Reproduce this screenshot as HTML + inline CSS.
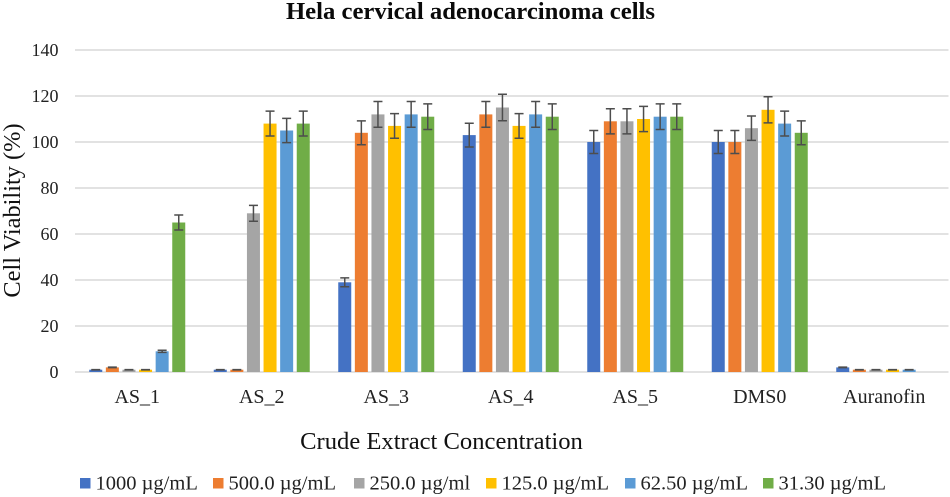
<!DOCTYPE html>
<html lang="en">
<head>
<meta charset="utf-8">
<title>Hela cervical adenocarcinoma cells</title>
<style>
html,body{margin:0;padding:0;background:#fff;width:950px;height:497px;overflow:hidden}
svg{display:block;font-family:"Liberation Serif",serif;filter:blur(0.35px)}
</style>
</head>
<body>
<svg id="chart" width="950" height="497" viewBox="0 0 950 497" xmlns="http://www.w3.org/2000/svg">
  <text x="470.5" y="19" text-anchor="middle" font-size="24.7" font-weight="bold" fill="#0a0a0a">Hela cervical adenocarcinoma cells</text>
  <text x="441.5" y="449" text-anchor="middle" font-size="24.6" fill="#111">Crude Extract Concentration</text>
  <text transform="translate(20 210.5) rotate(-90)" text-anchor="middle" font-size="24.4" fill="#111">Cell Viability (%)</text>
  <g id="grid"></g>
  <g id="ylabels"></g>
  <g id="xlabels"></g>
  <g id="bars"></g>
  <g id="errors"></g>
  <g id="legend"></g>
</svg>
<script>
const categories = ['AS_1', 'AS_2', 'AS_3', 'AS_4', 'AS_5', 'DMS0', 'Auranofin'];
const seriesNames = ['1000 µg/mL', '500.0 µg/mL', '250.0 µg/ml', '125.0 µg/mL', '62.50 µg/mL', '31.30 µg/mL'];
const seriesColors = ['#4472c4', '#ed7d31', '#a5a5a5', '#ffc000', '#5b9bd5', '#70ad47'];
const series1000 = [1, 1, 39, 103, 100, 100, 2];
const series500 = [2, 1, 104, 112, 109, 100, 1];
const series250 = [1, 69, 112, 115, 109, 106, 1];
const series125 = [1, 108, 107, 107, 110, 114, 1];
const series62 = [9, 105, 112, 112, 111, 108, 1];
const series31 = [65, 108, 111, 111, 111, 104, 0];
const allSeries = [series1000, series500, series250, series125, series62, series31];
const yTicks = [0, 20, 40, 60, 80, 100, 120, 140];
const errorPercent = 5;

const NS = 'http://www.w3.org/2000/svg';
const plotLeft = 75, plotRight = 948.5, baseY = 372, topY = 50, yMax = 140;
const band = 124.5, barPitch = 16.6, barW = 13;
const legendSwatchX = [80, 213, 354, 486, 625, 763];

function yScale(v) { return baseY - (v / yMax) * (baseY - topY); }
function groupCenter(i) { return plotLeft + band * (i + 0.5); }
function barLeft(c, s) { return groupCenter(c) + (s - 2.5) * barPitch - barW / 2; }
function make(tag, attrs, parent) {
  const el = document.createElementNS(NS, tag);
  for (const k in attrs) el.setAttribute(k, attrs[k]);
  parent.appendChild(el);
  return el;
}

const gridG = document.getElementById('grid');
const yLabG = document.getElementById('ylabels');
yTicks.forEach(function (t) {
  const line = make('line', { x1: plotLeft, x2: plotRight, y1: yScale(t), y2: yScale(t), stroke: '#d9d9d9', 'stroke-width': 1.4 }, gridG);
  
  
  const lab = make('text', { x: 58.5, y: yScale(t) + 6, 'text-anchor': 'end', 'font-size': 18, fill: '#222' }, yLabG);
  lab.textContent = t;
  
  
});

const xLabG = document.getElementById('xlabels');
categories.forEach(function (c, i) {
  const lab = make('text', { x: groupCenter(i), y: 403, 'text-anchor': 'middle', 'font-size': 20, fill: '#222' }, xLabG);
  lab.textContent = c;
  
  
});

const barG = document.getElementById('bars');
const errG = document.getElementById('errors');
allSeries.forEach(function (vals, s) {
  vals.forEach(function (v, c) {
    if (v <= 0) return;
    const x = barLeft(c, s);
    const rect = make('rect', { x: x, y: yScale(v), width: barW, height: baseY - yScale(v), fill: seriesColors[s] }, barG);
    
    
    const e = v * errorPercent / 100;
    const cx = x + barW / 2, capW = 4.5;
    const d = 'M' + cx + ' ' + yScale(v + e) + 'V' + yScale(v - e) +
      'M' + (cx - capW) + ' ' + yScale(v + e) + 'H' + (cx + capW) +
      'M' + (cx - capW) + ' ' + yScale(v - e) + 'H' + (cx + capW);
    const path = make('path', { d: d, stroke: '#4d4d4d', 'stroke-width': 1.5, fill: 'none' }, errG);
    
    
  });
});

const legG = document.getElementById('legend');
seriesNames.forEach(function (n, s) {
  const g = make('g', {}, legG);
  
  
  make('rect', { x: legendSwatchX[s], y: 478, width: 10.5, height: 10.5, fill: seriesColors[s] }, g);
  const t = make('text', { x: legendSwatchX[s] + 15.5, y: 489.5, 'font-size': 20.5, fill: '#222' }, g);
  t.textContent = n;
});
</script>
</body>
</html>
